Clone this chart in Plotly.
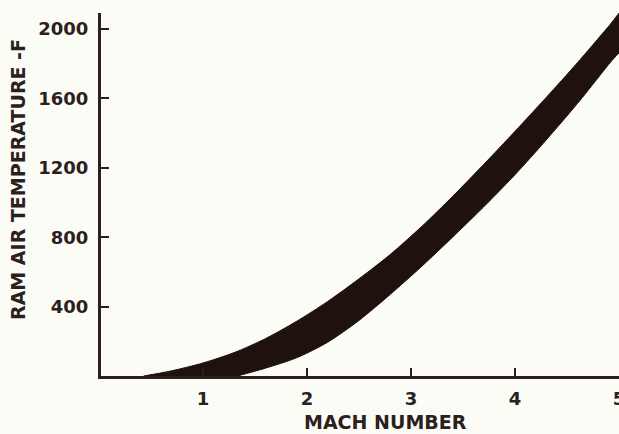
import plotly.graph_objects as go

# Ram air temperature band vs Mach number (upper and lower bounding curves)
mach_upper = [0.43, 0.7, 1.0, 1.3, 1.6, 1.9, 2.2, 2.5, 2.8, 3.1, 3.4, 3.7, 4.0, 4.3, 4.6, 4.9, 5.2]
temp_upper = [0, 30, 75, 135, 215, 315, 430, 560, 700, 860, 1035, 1220, 1410, 1605, 1805, 2015, 2225]

mach_lower = [1.33, 1.6, 1.9, 2.2, 2.5, 2.8, 3.1, 3.4, 3.7, 4.0, 4.3, 4.6, 4.9, 5.2]
temp_lower = [0, 45, 105, 195, 320, 470, 630, 800, 975, 1160, 1360, 1570, 1795, 2020]

x_ticks = [1, 2, 3, 4, 5]
y_ticks = [400, 800, 1200, 1600, 2000]

ink = "#2b201c"
band = "#1f120e"
paper = "#fcfcf6"
font_family = "DejaVu Sans"
tick_font = dict(size=18, color=ink, family=font_family, weight="bold")
title_font = dict(size=19, color=ink, family=font_family, weight="bold")

# closed outline: upper curve out, lower curve back
band_x = mach_upper + mach_lower[::-1]
band_y = temp_upper + temp_lower[::-1]

fig = go.Figure()
fig.add_trace(go.Scatter(
    x=band_x, y=band_y, mode="lines", line=dict(color=band, width=1, shape="spline", smoothing=0.8),
    fill="toself", fillcolor=band, hoverinfo="skip", showlegend=False,
))

fig.update_layout(
    width=619, height=434,
    margin=dict(l=101, r=0, t=13, b=58, autoexpand=False),
    paper_bgcolor=paper, plot_bgcolor=paper,
    font=dict(family=font_family, size=18, color=ink),
    showlegend=False,
    xaxis=dict(
        range=[0.02, 5.0], tickvals=x_ticks, ticktext=[str(v) for v in x_ticks],
        showgrid=False, zeroline=False, showline=True, linecolor=ink, linewidth=3,
        ticks="inside", ticklen=8, tickwidth=2, tickcolor=ink, automargin=False,
        ticklabelstandoff=4, ticklabeloverflow="allow", tickfont=tick_font,
    ),
    yaxis=dict(
        range=[0, 2092], tickvals=y_ticks, ticktext=[str(v) for v in y_ticks],
        showgrid=False, zeroline=False, showline=True, linecolor=ink, linewidth=3,
        ticks="inside", ticklen=8, tickwidth=2, tickcolor=ink, automargin=False,
        ticklabelstandoff=6, tickfont=tick_font,
    ),
    annotations=[
        dict(text="MACH NUMBER", xref="paper", yref="paper", x=(385 - 101) / 518, y=-(422 - 376) / 363,
             showarrow=False, xanchor="center", yanchor="middle", font=title_font),
        dict(text="RAM AIR TEMPERATURE -F", xref="paper", yref="paper", x=-(101 - 18) / 518,
             y=(376 - 180) / 363, showarrow=False, textangle=-90, xanchor="center", yanchor="middle",
             font=title_font),
    ],
)

fig.write_html("out.html")
